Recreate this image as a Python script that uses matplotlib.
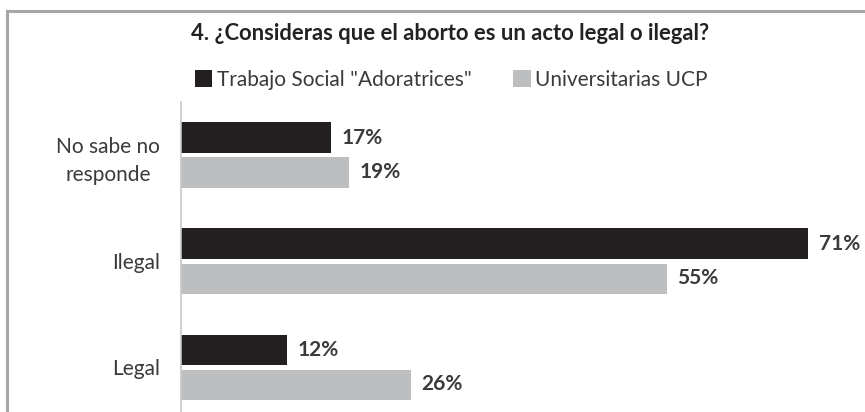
import matplotlib
matplotlib.use("Agg")
import matplotlib.pyplot as plt
from matplotlib.lines import Line2D

plt.rcParams['font.family'] = ['Lato', 'DejaVu Sans']

# Survey answers, top to bottom
categories = ["No sabe no\nresponde", "Ilegal", "Legal"]
adoratrices = [17, 71, 12]
ucp = [19, 55, 26]
series_names = ['Trabajo Social "Adoratrices"', "Universitarias UCP"]

W, H = 865, 412
fig = plt.figure(figsize=(W / 100, H / 100), dpi=100)

# axes placed in pixel terms: spine at x=181, top at y=102
ax = fig.add_axes([181 / W, 0, (860 - 181) / W, (H - 102) / H])

dark = "#231f20"
grey = "#bcbec0"
text_col = "#3a3a3a"

step = 106.0
pos = [2, 1, 0]
bh = 30 / step
off = 17.5 / step

b1 = ax.barh([p + off for p in pos], adoratrices, height=bh, color=dark)
b2 = ax.barh([p - off for p in pos], ucp, height=bh, color=grey)

for p, v in zip(pos, adoratrices):
    ax.text(v + 1.2, p + off, f"{v}%", va="center", ha="left",
            fontsize=15, fontweight="bold", color=text_col)
for p, v in zip(pos, ucp):
    ax.text(v + 1.2, p - off, f"{v}%", va="center", ha="left",
            fontsize=15, fontweight="bold", color=text_col)

ax.set_xlim(0, (860 - 181) / 8.83)
ax.set_ylim(-45 / step, (H - 102 - 45) / step)
ax.set_yticks(pos)
ax.set_yticklabels(categories, fontsize=15, color=text_col, multialignment="center",
                   linespacing=1.5)
ax.tick_params(axis="y", length=0, pad=15)
ax.set_xticks([])
for s in ["top", "right", "bottom"]:
    ax.spines[s].set_visible(False)
ax.spines["left"].set_color("#c8c8c8")
ax.spines["left"].set_linewidth(1.2)

fig.text(450 / W, 1 - 33 / H, "4. ¿Consideras que el aborto es un acto legal o ilegal?",
         ha="center", va="center", fontsize=15.8, fontweight="bold", color="#222222")

fig.legend([b1, b2], series_names, loc="center", bbox_to_anchor=(451 / W, 1 - 80 / H),
           ncol=2, frameon=False, fontsize=15, handlelength=0.85, handleheight=0.85,
           handletextpad=0.2, columnspacing=2.0, labelcolor=text_col)

# frame lines along top and left
fig.add_artist(Line2D([7 / W, 1], [1 - 11 / H, 1 - 11 / H], color="#a6a6a6", lw=2.2))
fig.add_artist(Line2D([7 / W, 7 / W], [0, 1 - 11 / H], color="#a6a6a6", lw=2.2))

fig.savefig("out.png", dpi=100, facecolor="white")
